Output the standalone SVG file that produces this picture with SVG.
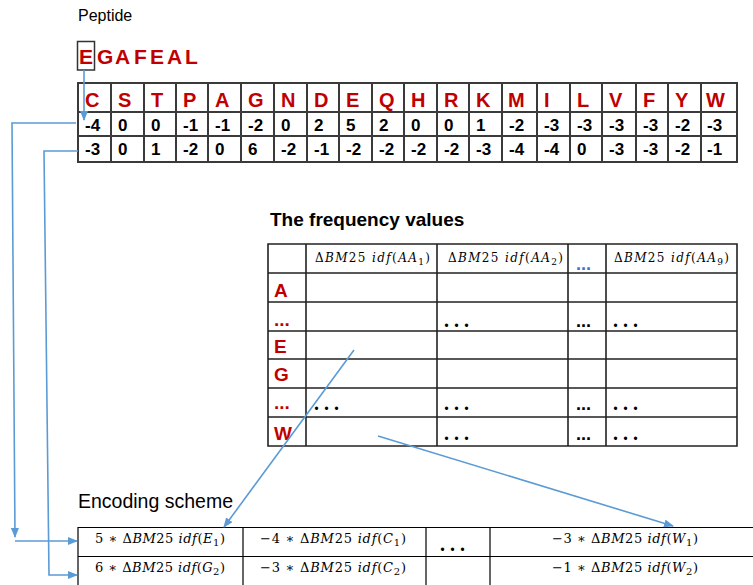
<svg xmlns="http://www.w3.org/2000/svg" width="753" height="585" viewBox="0 0 753 585">
<defs>
<marker id="ah" markerWidth="10" markerHeight="8" refX="9" refY="4" orient="auto" markerUnits="userSpaceOnUse">
<path d="M0,0 L10,4 L0,8 Z" fill="#5B9BD5"/>
</marker>
<style>
.lbl{font-family:"Liberation Sans",Arial,sans-serif;fill:#000}
.red{font-family:"Liberation Sans",Arial,sans-serif;font-weight:bold;fill:#C00000;font-size:19px}
.num{font-family:"Liberation Sans",Arial,sans-serif;font-weight:bold;fill:#000;font-size:17px}
.grid{stroke:#3a3a3a;stroke-width:2;fill:none}
.grid2{stroke:#222;stroke-width:1.6;fill:none}
.grid3{stroke:#000;stroke-width:1.2;fill:none}
.math{font-family:"DejaVu Serif","Liberation Serif",serif;fill:#000}
.it{font-style:italic}
.dots{font-family:"Liberation Serif",serif;font-weight:bold;font-size:20px;fill:#000}
.edots{font-family:"Liberation Sans",Arial,sans-serif;font-weight:bold;font-size:18px;fill:#000}
.conn{stroke:#5B9BD5;stroke-width:1.6;fill:none}
</style>
</defs>
<rect width="753" height="585" fill="#fff"/>

<g id="peptide">
<text class="lbl" x="78" y="21" font-size="16">Peptide</text>
<text class="red" style="font-size:21px" x="79 97 115 134 150 167 185" y="64">EGAFEAL</text>
<rect x="77.5" y="41.5" width="17" height="28.5" fill="none" stroke="#333" stroke-width="1.5"/>
</g>

<g id="substitution-table">
<path class="grid" d="M78,83H737V162H78Z M78,112H737 M78,136H737 M111,83V162 M144,83V162 M176,83V162 M208,83V162 M241,83V162 M274,83V162 M307,83V162 M339,83V162 M372,83V162 M404,83V162 M437,83V162 M469,83V162 M502,83V162 M537,83V162 M570,83V162 M602,83V162 M636,83V162 M668,83V162 M701,83V162"/>
<text class="red" style="font-size:20px" y="107"><tspan x="85">C</tspan><tspan x="118">S</tspan><tspan x="151">T</tspan><tspan x="183">P</tspan><tspan x="215">A</tspan><tspan x="248">G</tspan><tspan x="281">N</tspan><tspan x="314">D</tspan><tspan x="346">E</tspan><tspan x="379">Q</tspan><tspan x="411">H</tspan><tspan x="444">R</tspan><tspan x="476">K</tspan><tspan x="508">M</tspan><tspan x="544">I</tspan><tspan x="577">L</tspan><tspan x="609">V</tspan><tspan x="643">F</tspan><tspan x="675">Y</tspan><tspan x="706">W</tspan></text>
<text class="num" y="131"><tspan x="85">-4</tspan><tspan x="118">0</tspan><tspan x="151">0</tspan><tspan x="183">-1</tspan><tspan x="215">-1</tspan><tspan x="248">-2</tspan><tspan x="281">0</tspan><tspan x="314">2</tspan><tspan x="346">5</tspan><tspan x="379">2</tspan><tspan x="411">0</tspan><tspan x="444">0</tspan><tspan x="476">1</tspan><tspan x="509">-2</tspan><tspan x="544">-3</tspan><tspan x="577">-3</tspan><tspan x="609">-3</tspan><tspan x="643">-3</tspan><tspan x="675">-2</tspan><tspan x="707">-3</tspan></text>
<text class="num" y="155"><tspan x="85">-3</tspan><tspan x="118">0</tspan><tspan x="151">1</tspan><tspan x="183">-2</tspan><tspan x="215">0</tspan><tspan x="248">6</tspan><tspan x="281">-2</tspan><tspan x="314">-1</tspan><tspan x="346">-2</tspan><tspan x="379">-2</tspan><tspan x="411">-2</tspan><tspan x="444">-2</tspan><tspan x="476">-3</tspan><tspan x="509">-4</tspan><tspan x="544">-4</tspan><tspan x="577">0</tspan><tspan x="609">-3</tspan><tspan x="643">-3</tspan><tspan x="675">-2</tspan><tspan x="707">-1</tspan></text>
</g>

<g id="frequency-table">
<text class="lbl" x="270" y="226" font-size="19" font-weight="bold">The frequency values</text>
<path class="grid2" d="M268,244H737V446H268Z M268,273H737 M268,302H737 M268,331H737 M268,359H737 M268,388H737 M268,417H737 M306,244V446 M437,244V446 M568,244V446 M606,244V446"/>
<text class="math" font-size="12" x="315" y="262" textLength="115" lengthAdjust="spacing">Δ<tspan class="it">BM</tspan>25 <tspan class="it">idf</tspan>(<tspan class="it">AA</tspan><tspan font-size="9" dy="3">1</tspan><tspan dy="-3">)</tspan></text>
<text class="math" font-size="12" x="448" y="262" textLength="115" lengthAdjust="spacing">Δ<tspan class="it">BM</tspan>25 <tspan class="it">idf</tspan>(<tspan class="it">AA</tspan><tspan font-size="9" dy="3">2</tspan><tspan dy="-3">)</tspan></text>
<text class="math" font-size="12" x="614" y="262" textLength="115" lengthAdjust="spacing">Δ<tspan class="it">BM</tspan>25 <tspan class="it">idf</tspan>(<tspan class="it">AA</tspan><tspan font-size="9" dy="3">9</tspan><tspan dy="-3">)</tspan></text>
<text class="edots" x="576" y="270" style="fill:#4472C4">...</text>
<text class="red" x="274" y="297">A</text>
<text class="red" x="274" y="326">...</text>
<text class="red" x="274" y="353">E</text>
<text class="red" x="274" y="381">G</text>
<text class="red" x="274" y="409">...</text>
<text class="red" x="274" y="440">W</text>
<text class="dots" y="327"><tspan x="444">. . .</tspan><tspan x="613">. . .</tspan></text>
<text class="edots" x="576" y="327">...</text>
<text class="dots" y="410"><tspan x="314">. . .</tspan><tspan x="444">. . .</tspan><tspan x="613">. . .</tspan></text>
<text class="edots" x="576" y="410">...</text>
<text class="dots" y="440"><tspan x="444">. . .</tspan><tspan x="613">. . .</tspan></text>
<text class="edots" x="576" y="440">...</text>
</g>

<g id="encoding-scheme">
<text class="lbl" x="78" y="508" font-size="19.5">Encoding scheme</text>
<path class="grid3" d="M78,527.5H753 M78,556.5H753 M78,527V585 M243,527V585 M426,527V585 M490,527V585"/>
<text class="math" font-size="13" x="160" y="543" text-anchor="middle" textLength="130" lengthAdjust="spacing">5 ∗ Δ<tspan class="it">BM</tspan>25 <tspan class="it">idf</tspan>(<tspan class="it">E</tspan><tspan font-size="10" dy="3">1</tspan><tspan dy="-3">)</tspan></text>
<text class="math" font-size="13" x="160" y="572" text-anchor="middle" textLength="130" lengthAdjust="spacing">6 ∗ Δ<tspan class="it">BM</tspan>25 <tspan class="it">idf</tspan>(<tspan class="it">G</tspan><tspan font-size="10" dy="3">2</tspan><tspan dy="-3">)</tspan></text>
<text class="math" font-size="13" x="333" y="543" text-anchor="middle" textLength="146" lengthAdjust="spacing">−4 ∗ Δ<tspan class="it">BM</tspan>25 <tspan class="it">idf</tspan>(<tspan class="it">C</tspan><tspan font-size="10" dy="3">1</tspan><tspan dy="-3">)</tspan></text>
<text class="math" font-size="13" x="333" y="572" text-anchor="middle" textLength="146" lengthAdjust="spacing">−3 ∗ Δ<tspan class="it">BM</tspan>25 <tspan class="it">idf</tspan>(<tspan class="it">C</tspan><tspan font-size="10" dy="3">2</tspan><tspan dy="-3">)</tspan></text>
<text class="dots" x="440" y="551">. . .</text>
<text class="math" font-size="13" x="625" y="543" text-anchor="middle" textLength="146" lengthAdjust="spacing">−3 ∗ Δ<tspan class="it">BM</tspan>25 <tspan class="it">idf</tspan>(<tspan class="it">W</tspan><tspan font-size="10" dy="3">1</tspan><tspan dy="-3">)</tspan></text>
<text class="math" font-size="13" x="625" y="572" text-anchor="middle" textLength="146" lengthAdjust="spacing">−1 ∗ Δ<tspan class="it">BM</tspan>25 <tspan class="it">idf</tspan>(<tspan class="it">W</tspan><tspan font-size="10" dy="3">2</tspan><tspan dy="-3">)</tspan></text>
</g>

<g id="connectors">
<path class="conn" d="M84,70V120" marker-end="url(#ah)"/>
<path class="conn" d="M76,123H12L15,537" marker-end="url(#ah)"/>
<path class="conn" d="M15,541H77" marker-end="url(#ah)"/>
<path class="conn" d="M78,151H44L49,575H77" marker-end="url(#ah)"/>
<path class="conn" d="M354,350L224,527" marker-end="url(#ah)"/>
<path class="conn" d="M378,436L673,526" marker-end="url(#ah)"/>
</g>
</svg>
